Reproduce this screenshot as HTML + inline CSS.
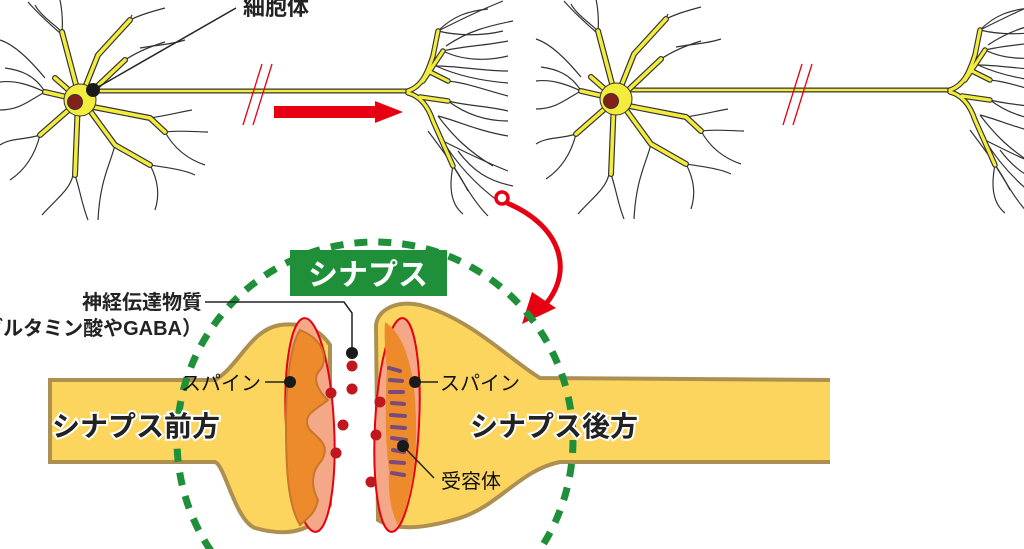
<!DOCTYPE html>
<html><head><meta charset="utf-8"><style>
html,body{margin:0;padding:0;background:#fff;width:1024px;height:549px;overflow:hidden}
svg{display:block}
text{font-family:"Liberation Sans","Noto Sans CJK JP",sans-serif;}
</style></head><body>
<svg width="1024" height="549" viewBox="0 0 1024 549" xmlns="http://www.w3.org/2000/svg" style="position:absolute;left:0;top:0">
<defs>
<g id="neuron">
  <g fill="none" stroke="#333" stroke-width="1.2">
    <path d="M60,33 C45,20 35,10 28,2"/>
    <path d="M62,32 C63,20 62,10 60,0"/>
    <path d="M98,55 C115,40 125,30 132,15"/>
    <path d="M130,20 C140,15 150,12 165,8"/>
    <path d="M125,60 C140,50 155,45 165,42"/>
    <path d="M140,48 C155,45 170,45 185,40"/>
    <path d="M45,92 C30,85 15,80 0,82"/>
    <path d="M45,92 C30,100 20,110 0,110"/>
    <path d="M45,78 C30,60 15,45 0,40"/>
    <path d="M40,135 C25,140 10,138 0,145"/>
    <path d="M40,135 C35,155 25,170 10,180"/>
    <path d="M73,175 C70,190 55,200 42,215"/>
    <path d="M75,175 C80,190 82,205 88,220"/>
    <path d="M115,145 C110,165 100,180 98,220"/>
    <path d="M150,165 C158,180 160,195 155,210"/>
    <path d="M150,165 C170,168 185,170 195,175"/>
    <path d="M165,132 C175,150 190,160 205,165"/>
    <path d="M165,132 C180,130 195,132 208,132"/>
    <path d="M150,118 C170,115 180,112 192,110"/>
    <path d="M62,32 C55,25 40,15 35,5"/>
    <path d="M45,92 C35,75 20,70 5,68"/>
  </g>
  <g fill="none" stroke-linecap="round" stroke-linejoin="round">
    <g stroke="#333" stroke-width="6">
      <path d="M80,100 L62,32"/><path d="M80,100 L98,55 L130,20"/><path d="M88,95 L125,60"/>
      <path d="M80,100 L45,92"/><path d="M80,100 L55,78"/><path d="M80,100 L40,135"/>
      <path d="M78,100 L75,175"/><path d="M88,108 L115,145 L150,165"/><path d="M88,106 L150,118 L165,132"/>
    </g>
    <g stroke="#f3ec3c" stroke-width="3.6">
      <path d="M80,100 L62,32"/><path d="M80,100 L98,55 L130,20"/><path d="M88,95 L125,60"/>
      <path d="M80,100 L45,92"/><path d="M80,100 L55,78"/><path d="M80,100 L40,135"/>
      <path d="M78,100 L75,175"/><path d="M88,108 L115,145 L150,165"/><path d="M88,106 L150,118 L165,132"/>
    </g>
  </g>
  <circle cx="80" cy="100" r="16" fill="#f3ec3c" stroke="#333" stroke-width="1"/>
  <circle cx="75" cy="102" r="7.5" fill="#82201a" stroke="#333" stroke-width="1"/>
</g>
<g id="term">
  <g fill="none" stroke="#333" stroke-width="1.2">
    <path d="M30,-60 C50,-70 70,-80 95,-90"/><path d="M30,-60 C50,-55 75,-55 95,-60"/>
    <path d="M35,-40 C55,-45 75,-45 100,-50"/><path d="M35,-40 C55,-30 80,-30 100,-35"/>
    <path d="M28,-25 C50,-25 75,-20 100,-20"/><path d="M28,-25 C50,-15 75,-10 100,-8"/>
    <path d="M40,-10 C60,-8 80,0 100,5"/>
    <path d="M30,25 C50,30 70,40 100,45"/><path d="M30,25 C45,45 60,60 85,75"/>
    <path d="M35,50 C55,60 75,70 100,80"/><path d="M35,50 C50,75 70,95 90,110"/>
    <path d="M45,75 C55,90 65,110 80,125"/><path d="M45,75 C40,100 45,115 55,123"/>
    <path d="M40,10 C60,15 80,15 100,20"/><path d="M40,10 C60,25 80,30 100,30"/>
    <path d="M30,-60 C45,-75 60,-80 80,-82"/><path d="M38,-45 C60,-60 80,-65 105,-70"/>
    <path d="M50,60 C65,80 80,90 105,95"/><path d="M20,40 C35,60 50,80 60,100"/>
  </g>
  <g fill="none" stroke-linecap="round" stroke-linejoin="round">
    <g stroke="#333" stroke-width="5.5">
      <path d="M0,0 C15,-5 20,-20 25,-35 L30,-60"/><path d="M15,-10 L35,-40"/><path d="M20,-20 L40,-10"/>
      <path d="M0,2 C12,5 20,15 25,30 L45,75"/><path d="M12,6 L40,10"/>
    </g>
    <g stroke="#f3ec3c" stroke-width="3.2">
      <path d="M0,0 C15,-5 20,-20 25,-35 L30,-60"/><path d="M15,-10 L35,-40"/><path d="M20,-20 L40,-10"/>
      <path d="M0,2 C12,5 20,15 25,30 L45,75"/><path d="M12,6 L40,10"/>
    </g>
  </g>
</g>
</defs>

<g stroke-linecap="butt">
  <line x1="92" y1="91" x2="410" y2="91" stroke="#333" stroke-width="5"/>
  <line x1="92" y1="91" x2="410" y2="91" stroke="#f3ec3c" stroke-width="2.6"/>
  <line x1="628" y1="90" x2="950" y2="90" stroke="#333" stroke-width="5"/>
  <line x1="628" y1="90" x2="950" y2="90" stroke="#f3ec3c" stroke-width="2.6"/>
</g>
<use href="#neuron"/>
<use href="#neuron" transform="translate(536,-1)"/>
<use href="#term" transform="translate(408,91)"/>
<use href="#term" transform="translate(950,90)"/>
<g stroke="#e60012" stroke-width="1.3">
  <line x1="243" y1="125" x2="262" y2="64"/><line x1="253" y1="125" x2="272" y2="64"/>
  <line x1="783" y1="125" x2="802" y2="64"/><line x1="793" y1="125" x2="812" y2="64"/>
</g>
<polygon points="274,106 375,106 375,101 403,112 375,123 375,118 274,118" fill="#e60012"/>
<line x1="93" y1="90" x2="236" y2="8" stroke="#222" stroke-width="1.5"/>
<circle cx="93" cy="90" r="7" fill="#1a1a1a"/>
<text x="243" y="15" font-size="22" font-weight="bold" fill="#222">細胞体</text>
<circle cx="502" cy="198" r="6" fill="none" stroke="#e60012" stroke-width="3.5"/>
<path d="M507,203 C560,225 575,270 545,305" fill="none" stroke="#e60012" stroke-width="5"/>
<polygon points="522,324 532,292 556,308" fill="#e60012"/>

<path d="M50,380 L215,380 C240,365 250,330 280,325 C305,322 320,330 330,345 L330,505 C315,530 290,538 255,528 C235,520 225,465 215,462 L50,462 Z" fill="#fbd55e" stroke="#ad9051" stroke-width="4"/>
<path d="M830,380 L540,378 C510,360 470,318 420,305 C395,300 378,310 376,325 L378,520 C395,530 420,530 460,518 C500,505 520,470 560,462 L830,462" fill="#fbd55e" stroke="#ad9051" stroke-width="4"/>
<ellipse cx="310" cy="425" rx="24" ry="107" transform="rotate(-3 310 425)" fill="#f5a887" stroke="#e60012" stroke-width="2"/>
<path d="M300,330 C325,340 328,360 320,370 C310,380 322,395 328,400 C316,410 300,415 310,430 C320,440 330,445 322,460 C312,470 310,485 318,500 C315,515 305,520 300,525 C288,505 286,470 286,425 C286,385 290,345 300,330Z" fill="#ec8a2c" stroke="#c9762b" stroke-width="2"/>
<ellipse cx="397" cy="425" rx="22" ry="107" transform="rotate(3 397 425)" fill="#f5a887" stroke="#e60012" stroke-width="2"/>
<path d="M385,322 C405,335 415,370 416,420 C417,470 410,505 398,525 C390,510 388,490 389,470 C385,440 385,400 387,370 C385,350 384,335 385,322Z" fill="#ec8a2c"/>
<g stroke="#7a4a78" stroke-width="4" stroke-linecap="round">
  <line x1="389" y1="368" x2="400" y2="371"/><line x1="390" y1="380" x2="402" y2="381"/>
  <line x1="390" y1="392" x2="403" y2="392"/><line x1="392" y1="403" x2="404" y2="404"/>
  <line x1="391" y1="415" x2="405" y2="416"/><line x1="392" y1="427" x2="405" y2="428"/>
  <line x1="392" y1="438" x2="406" y2="440"/><line x1="393" y1="450" x2="404" y2="452"/>
  <line x1="391" y1="462" x2="404" y2="463"/><line x1="392" y1="473" x2="404" y2="475"/>
</g>
<g fill="#c0161e">
  <circle cx="352" cy="366" r="5.5"/><circle cx="352" cy="389" r="5.5"/>
  <circle cx="331" cy="393" r="5.5"/><circle cx="343" cy="425" r="5.5"/>
  <circle cx="336" cy="453" r="5.5"/><circle cx="380" cy="402" r="5.5"/>
  <circle cx="376" cy="435" r="5.5"/><circle cx="371" cy="482" r="5.5"/>
</g>
<circle cx="375" cy="440" r="198" fill="none" stroke="#1f8f3a" stroke-width="7" stroke-dasharray="13 11"/>
<rect x="290" y="250" width="157" height="46" fill="#1f8f3a"/>
<text x="368" y="285" font-size="30" font-weight="bold" fill="#fff" text-anchor="middle">シナプス</text>
<path d="M205,302 L344,302 L352,313 L352,353" fill="none" stroke="#222" stroke-width="1.5"/>
<circle cx="352" cy="353" r="6" fill="#1a1a1a"/>
<text x="202" y="309" font-size="20" font-weight="bold" fill="#222" text-anchor="end">神経伝達物質</text>
<text x="202" y="335" font-size="20" font-weight="bold" fill="#222" text-anchor="end">（グルタミン酸やGABA）</text>
<line x1="265" y1="382" x2="290" y2="382" stroke="#222" stroke-width="1.5"/>
<circle cx="290" cy="382" r="6" fill="#1a1a1a"/>
<text x="181" y="390" font-size="20" fill="#111">スパイン</text>
<line x1="415" y1="382" x2="438" y2="382" stroke="#222" stroke-width="1.5"/>
<circle cx="415" cy="382" r="6" fill="#1a1a1a"/>
<text x="440" y="390" font-size="20" fill="#111">スパイン</text>
<line x1="403" y1="446" x2="434" y2="478" stroke="#222" stroke-width="1.5"/>
<circle cx="403" cy="446" r="6" fill="#1a1a1a"/>
<text x="441" y="488" font-size="20" fill="#111">受容体</text>
<text x="52" y="436" font-size="28" font-weight="bold" fill="#222" stroke="#fff" stroke-width="4" paint-order="stroke">シナプス前方</text>
<text x="470" y="436" font-size="28" font-weight="bold" fill="#222" stroke="#fff" stroke-width="4" paint-order="stroke">シナプス後方</text>
</svg>
</body></html>
